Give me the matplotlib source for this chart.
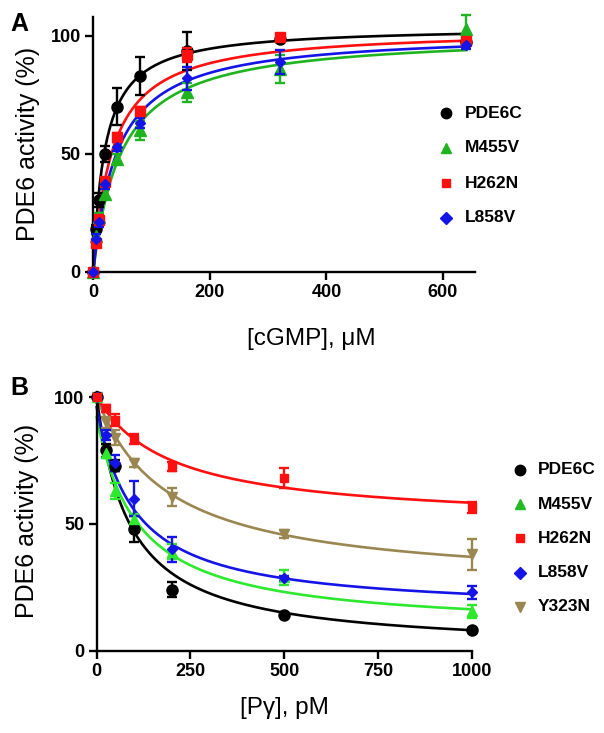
import numpy as np
import matplotlib
matplotlib.use("Agg")
import matplotlib.pyplot as plt
from matplotlib.lines import Line2D

plt.rcParams["font.family"] = ["Liberation Sans", "DejaVu Sans"]

W, H = 604, 733

# ---- panel A data: cGMP titration ----
cgmp = [0, 5, 10, 20, 40, 80, 160, 320, 640]
a_names = ["PDE6C", "M455V", "H262N", "L858V"]
a_pde6c = [0, 18, 30.5, 50, 70, 83, 93.5, 98.5, 97.5]
a_pde6c_err = [0, 2, 3, 3.5, 8, 8, 8, 1, 1.5]
a_m455v = [0, 15, 23, 33, 48, 60, 76, 86, 103]
a_m455v_err = [0, 2, 2, 2, 2, 4, 4, 6, 6]
a_h262n = [0, 12, 22, 38, 57, 68, 92, 99.5, 98]
a_h262n_err = [0, 1.5, 2, 2, 2, 2, 3, 1, 1]
a_l858v = [0, 14, 21, 37, 53, 63, 82, 89, 96]
a_l858v_err = [0, 2, 2, 2, 2, 2, 5, 5, 1.5]
# Michaelis-Menten fit parameters (Vmax, Km)
a_vmax = [104, 101, 103, 101.6]
a_km = [20, 48, 33, 41]

# ---- panel B data: Pgamma inhibition ----
pg = [0, 25, 50, 100, 200, 500, 1000]
b_names = ["PDE6C", "M455V", "H262N", "L858V", "Y323N"]
b_pde6c = [100, 79, 73, 48, 24, 14, 8]
b_pde6c_err = [0, 2.5, 2, 5, 3, 0.8, 0.8]
b_m455v = [100, 78, 63, 52, 39, 29, 15.5]
b_m455v_err = [0, 2, 3, 2, 3, 3, 2.5]
b_h262n = [100, 95.5, 91, 83.5, 72.5, 68, 56.5]
b_h262n_err = [0, 1.5, 2.5, 2, 1.8, 4, 2.2]
b_l858v = [100, 85, 74, 60, 40, 28.5, 23]
b_l858v_err = [0, 2, 3, 7, 5, 1, 2.5]
b_y323n = [100, 90, 84, 74, 60.5, 46, 38]
b_y323n_err = [0, 2, 3, 1.5, 3.5, 1.5, 6]
# hyperbolic inhibition fit parameters (top, bottom, IC50)
b_top = [100, 92, 100, 96, 100]
b_bottom = [0, 8, 50, 15, 25]
b_ic50 = [88, 110, 200, 100, 190]

BLACK = "#000000"
GREEN_A = "#1fb41f"
GREEN_B = "#2ee82e"
RED = "#ff1010"
BLUE = "#1414e6"
TAN = "#9a8650"

fig = plt.figure(figsize=(W / 100, H / 100), dpi=100)


def px_axes(left, right, top, bottom):
    return fig.add_axes([left / W, 1 - bottom / H, (right - left) / W, (bottom - top) / H])


def style(ax):
    for s in ["top", "right"]:
        ax.spines[s].set_visible(False)
    for s in ["left", "bottom"]:
        ax.spines[s].set_linewidth(1.7)
    ax.tick_params(width=1.7, length=6, labelsize=13, pad=3)
    for lab in ax.get_xticklabels() + ax.get_yticklabels():
        lab.set_fontweight("bold")


def legend(names, markers, colors, mx, tx, y0, dy):
    for i, (n, m, c) in enumerate(zip(names, markers, colors)):
        y = 1 - (y0 + i * dy) / H
        fig.add_artist(Line2D([mx / W], [y], marker=m, color=c,
                              ms=6 if m in "sD" else 7.5,
                              ls="none", transform=fig.transFigure))
        fig.text(tx / W, y, n, fontsize=12.5, fontweight="bold",
                 va="center", ha="left")


# ── PANEL A ─────────────────────────────────────────────
ax = px_axes(93.3, 475, 17, 271.7)
a_vals = [a_pde6c, a_m455v, a_h262n, a_l858v]
a_errs = [a_pde6c_err, a_m455v_err, a_h262n_err, a_l858v_err]
a_cols = [BLACK, GREEN_A, RED, BLUE]
a_mk = ["o", "^", "s", "D"]
a_ms = [8, 8, 7, 5.5]
xs = np.linspace(0, max(cgmp), 400)
order = [1, 3, 2, 0]
for i in order:
    ax.plot(xs, a_vmax[i] * xs / (a_km[i] + xs), color=a_cols[i], lw=1.9,
            zorder=2 + i * 0.1, clip_on=False)
for i in order:
    ax.errorbar(cgmp, a_vals[i], yerr=a_errs[i], fmt=a_mk[i], color=a_cols[i],
                ms=a_ms[i], capsize=3.5, elinewidth=1.7, capthick=1.7,
                zorder=3 + i * 0.1, clip_on=False)
ax.set_xlim(0, 655)
ax.set_ylim(0, 108)
ax.set_xticks([0, 200, 400, 600])
ax.set_yticks([0, 50, 100])
style(ax)
ax.set_xlabel("[cGMP], \u03bcM", fontsize=17.5)
ax.xaxis.set_label_coords(0.57, -0.22)
ax.set_ylabel("PDE6 activity (%)", fontsize=18)
ax.yaxis.set_label_coords(-0.14, 0.5)
fig.text(10 / W, 1 - 24 / H, "A", fontsize=18, fontweight="bold", va="center")
legend(a_names, a_mk, a_cols, 446, 465, 113, 35)

# ── PANEL B ─────────────────────────────────────────────
ax = px_axes(96.7, 471.7, 392, 650.7)
b_vals = [b_pde6c, b_m455v, b_h262n, b_l858v, b_y323n]
b_errs = [b_pde6c_err, b_m455v_err, b_h262n_err, b_l858v_err, b_y323n_err]
b_cols = [BLACK, GREEN_B, RED, BLUE, TAN]
b_mk = ["o", "^", "s", "D", "v"]
b_ms = [8, 7, 6, 5, 7]
xs = np.linspace(0, max(pg), 400)
order = [4, 0, 1, 3, 2]
for i in order:
    fit = b_bottom[i] + (b_top[i] - b_bottom[i]) / (1 + xs / b_ic50[i])
    ax.plot(xs, fit, color=b_cols[i], lw=1.9, zorder=2, clip_on=False)
for i in order:
    ax.errorbar(pg, b_vals[i], yerr=b_errs[i], fmt=b_mk[i], color=b_cols[i],
                ms=b_ms[i], capsize=3.5, elinewidth=1.7, capthick=1.7,
                zorder=3, clip_on=False)
ax.set_xlim(0, 1000)
ax.set_ylim(0, 102)
ax.set_xticks([0, 250, 500, 750, 1000])
ax.set_yticks([0, 50, 100])
style(ax)
ax.set_xlabel("[P\u03b3], pM", fontsize=17.5)
ax.xaxis.set_label_coords(0.5, -0.18)
ax.set_ylabel("PDE6 activity (%)", fontsize=18)
ax.yaxis.set_label_coords(-0.153, 0.5)
fig.text(10 / W, 1 - 388 / H, "B", fontsize=18, fontweight="bold", va="center")
legend(b_names, b_mk, [BLACK, "#22bb22", RED, BLUE, TAN], 520, 538, 470, 34.2)

plt.savefig("out.png", dpi=100, facecolor="white")
